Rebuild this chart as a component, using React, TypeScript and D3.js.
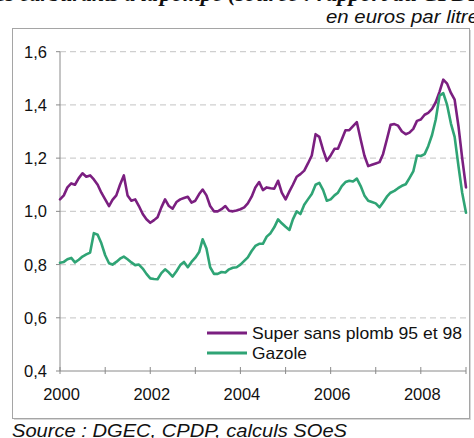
import React, { useEffect } from "react";
import * as d3 from "d3";

// ---- Data (monthly, Jan 2000 .. Jan 2009), euros per litre ----
const seriesNames = ["Super sans plomb 95 et 98", "Gazole"];

const superValues = [
  1.045, 1.06, 1.09, 1.105, 1.1, 1.125, 1.143, 1.13, 1.135, 1.12, 1.1, 1.07, 1.045,
  1.02, 1.043, 1.06, 1.1, 1.135, 1.06, 1.04, 1.045, 1.02, 0.99, 0.97, 0.957, 0.967, 0.978, 1.015,
  1.045, 1.02, 1.01, 1.035, 1.045, 1.05, 1.055, 1.033, 1.04, 1.065, 1.082, 1.06, 1.02, 1.0, 1.0,
  1.008, 1.02, 1.002, 1.0, 1.003, 1.008, 1.015, 1.03, 1.055, 1.09,
  1.11, 1.08, 1.09, 1.087, 1.085, 1.115, 1.07, 1.045, 1.075, 1.1, 1.13, 1.14, 1.153, 1.18, 1.21,
  1.29, 1.28, 1.23, 1.19, 1.21, 1.235, 1.235, 1.27, 1.305, 1.305,
  1.32, 1.335, 1.27, 1.21, 1.17, 1.175, 1.18, 1.185, 1.215, 1.27, 1.325, 1.328, 1.322, 1.3, 1.29,
  1.296, 1.31, 1.34, 1.345, 1.363, 1.37, 1.385, 1.41, 1.45, 1.495, 1.48, 1.445, 1.42, 1.32, 1.2, 1.09,
];

const gazoleValues = [
  0.807, 0.81, 0.82, 0.825, 0.808, 0.818, 0.83, 0.838, 0.845, 0.918, 0.912, 0.88, 0.835,
  0.805, 0.8, 0.81, 0.822, 0.83, 0.82, 0.808, 0.798, 0.8, 0.785, 0.765, 0.748, 0.746, 0.745, 0.768,
  0.782, 0.77, 0.755, 0.775, 0.798, 0.81, 0.79, 0.81, 0.826, 0.847, 0.895, 0.86, 0.79, 0.765, 0.765,
  0.772, 0.77, 0.782, 0.788, 0.79, 0.8, 0.814, 0.827, 0.851, 0.87,
  0.878, 0.878, 0.905, 0.918, 0.94, 0.97, 0.955, 0.942, 0.93, 0.97, 1.0, 0.99, 1.025, 1.045, 1.065,
  1.1, 1.107, 1.08, 1.04, 1.045, 1.06, 1.07, 1.095, 1.11, 1.115,
  1.112, 1.123, 1.095, 1.06, 1.04, 1.035, 1.03, 1.015, 1.033, 1.055, 1.07, 1.077, 1.087, 1.096, 1.102,
  1.125, 1.15, 1.21, 1.208, 1.215, 1.245, 1.287, 1.345, 1.435, 1.444, 1.4, 1.33, 1.28, 1.17, 1.07, 0.995,
];

const yTicks = [0.4, 0.6, 0.8, 1.0, 1.2, 1.4, 1.6];
const gridValues = [0.6, 0.8, 1.0, 1.2, 1.4, 1.6];
const xTickYears = [2000, 2001, 2002, 2003, 2004, 2005, 2006, 2007, 2008, 2009];
const xLabelYears = [2000, 2002, 2004, 2006, 2008];
const seriesColors = ["#7b1f80", "#2fa475"];

const SANS = "'Liberation Sans', Arial, Helvetica, sans-serif";
const SERIF = "'Liberation Serif', 'Times New Roman', serif";

export default function App() {
  useEffect(() => {
    document.body.style.margin = "0";
  }, []);

  const W = 474;
  const H = 438;
  const x = d3
    .scaleTime()
    .domain([new Date(2000, 0, 1), new Date(2009, 0, 1)])
    .range([60, 466]);
  const y = d3.scaleLinear().domain([0.4, 1.6]).range([371, 51.7]);

  const toPoints = (vals: number[]) =>
    vals.map((v, i) => ({ d: new Date(2000, i, 1), v }));

  const line = d3
    .line<{ d: Date; v: number }>()
    .x((p) => x(p.d))
    .y((p) => y(p.v))
    .curve(d3.curveLinear);

  const series = [superValues, gazoleValues];
  const fmt = (v: number) => v.toFixed(1).replace(".", ",");

  const legendY = [333, 353];

  return (
    <svg
      width={W}
      height={H}
      viewBox={`0 0 ${W} ${H}`}
      style={{ position: "absolute", left: 0, top: 0, background: "#fff" }}
    >
      <rect x={0} y={0} width={W} height={H} fill="#fff" />
      {/* cut-off title */}
      <text
        x={158}
        y={1}
        textAnchor="end"
        fontFamily={SERIF}
        fontStyle="italic"
        fontWeight="bold"
        fontSize={22}
        fill="#111"
      >
        Prix des carburants à la{" "}
      </text>
      <text
        x={160}
        y={1}
        fontFamily={SERIF}
        fontStyle="italic"
        fontWeight="bold"
        fontSize={22}
        fill="#111"
        textLength={330}
        lengthAdjust="spacingAndGlyphs"
      >
        pompe (source : rapport du CPDP)
      </text>
      <text
        x={326}
        y={23}
        fontFamily={SANS}
        fontStyle="italic"
        fontSize={18}
        fill="#111"
        textLength={153}
        lengthAdjust="spacingAndGlyphs"
      >
        en euros par litre
      </text>

      {/* frame with shadow */}
      <rect x={14} y={30} width={457} height={390} fill="#d8d8d8" />
      <rect x={12.5} y={28.5} width={457} height={390} fill="#fff" stroke="#a5a5a5" strokeWidth={1} />

      {/* grid */}
      {gridValues.map((g) => (
        <line
          key={g}
          x1={60}
          x2={466}
          y1={y(g)}
          y2={y(g)}
          stroke="#cfcfcf"
          strokeWidth={1.2}
          strokeDasharray="6,4"
        />
      ))}

      {/* y axis */}
      <line x1={60} x2={60} y1={y(1.6)} y2={y(0.4)} stroke="#8a8a8a" strokeWidth={1} />
      {yTicks.map((t) => (
        <g key={t}>
          <line x1={56} x2={60} y1={y(t)} y2={y(t)} stroke="#8a8a8a" strokeWidth={1} />
          <text
            x={47}
            y={y(t)}
            dy="0.36em"
            textAnchor="end"
            fontFamily={SANS}
            fontSize={16.5}
            fill="#111"
          >
            {fmt(t)}
          </text>
        </g>
      ))}

      {/* x axis */}
      <line x1={60} x2={466} y1={371} y2={371} stroke="#8a8a8a" strokeWidth={1} />
      {xTickYears.map((yr) => (
        <line
          key={yr}
          x1={x(new Date(yr, 0, 1))}
          x2={x(new Date(yr, 0, 1))}
          y1={367}
          y2={374}
          stroke="#8a8a8a"
          strokeWidth={1}
        />
      ))}
      {xLabelYears.map((yr) => (
        <text
          key={yr}
          x={x(new Date(yr, 0, 1)) + 1.5}
          y={400}
          textAnchor="middle"
          fontFamily={SANS}
          fontSize={16.5}
          fill="#111"
        >
          {yr}
        </text>
      ))}

      {/* series */}
      {series.map((vals, k) => (
        <path
          key={k}
          d={line(toPoints(vals)) || ""}
          fill="none"
          stroke={seriesColors[k]}
          strokeWidth={2.6}
          strokeLinejoin="round"
          strokeLinecap="round"
        />
      ))}

      {/* legend */}
      {seriesNames.map((name, k) => (
        <g key={name}>
          <line
            x1={207}
            x2={247}
            y1={legendY[k]}
            y2={legendY[k]}
            stroke={seriesColors[k]}
            strokeWidth={2.8}
          />
          <text
            x={252}
            y={legendY[k]}
            dy="0.36em"
            fontFamily={SANS}
            fontSize={17}
            fill="#111"
            textLength={k === 0 ? 210 : 55}
            lengthAdjust="spacingAndGlyphs"
          >
            {name}
          </text>
        </g>
      ))}

      {/* source */}
      <text
        x={12}
        y={437}
        fontFamily={SANS}
        fontStyle="italic"
        fontSize={18}
        fill="#111"
        textLength={335}
        lengthAdjust="spacingAndGlyphs"
      >
        Source : DGEC, CPDP, calculs SOeS
      </text>
    </svg>
  );
}
